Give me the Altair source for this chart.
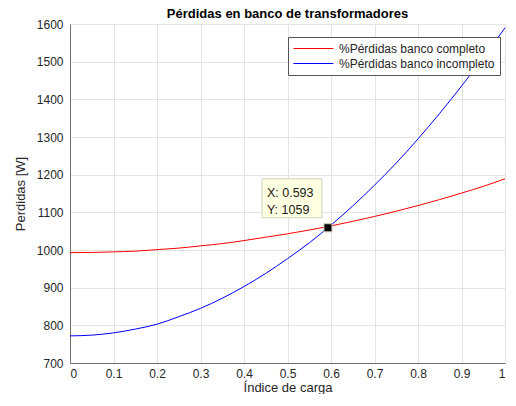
import altair as alt
import pandas as pd

# Values
load_index = [0.0, 0.05, 0.1, 0.15, 0.2, 0.25, 0.3, 0.35, 0.4, 0.45, 0.5,
              0.55, 0.6, 0.65, 0.7, 0.75, 0.8, 0.85, 0.9, 0.95, 1.0]
loss_complete = [993, 993.5, 995, 997, 1001, 1005, 1011, 1017, 1025, 1034, 1043,
                 1053, 1064, 1076, 1089, 1103, 1118, 1134, 1151, 1169, 1189]
loss_incomplete = [772, 774, 780, 790, 803, 823, 845, 872, 903, 938, 977,
                   1019, 1066, 1117, 1172, 1231, 1295, 1363, 1435, 1511, 1590]
series_names = ["%Pérdidas banco completo", "%Pérdidas banco incompleto"]
series_colors = ["#ff0000", "#0000ff"]
tip_x = [0.593]
tip_y = [1059]
x_ticks = [0, 0.1, 0.2, 0.3, 0.4, 0.5, 0.6, 0.7, 0.8, 0.9, 1]
y_ticks = [700, 800, 900, 1000, 1100, 1200, 1300, 1400, 1500, 1600]

rows = []
for name, vals in zip(series_names, [loss_complete, loss_incomplete]):
    for xv, yv in zip(load_index, vals):
        rows.append({"x": xv, "y": yv, "serie": name})
df = pd.DataFrame(rows)

df_tip = pd.DataFrame({
    "x": tip_x,
    "y": tip_y,
    "label": [f"X: {tip_x[0]}\nY: {tip_y[0]}"],
})

FONT = "Liberation Sans"
x_scale = alt.Scale(domain=[0, 1], nice=False, zero=False)
y_scale = alt.Scale(domain=[700, 1600], nice=False, zero=False)
x_axis = alt.Axis(values=x_ticks, format="~g", title="Índice de carga",
                  labelOverlap=False, tickCount=11,
                  titleBaseline="alphabetic", titleY=28)
y_axis = alt.Axis(values=y_ticks, format="d", title="Perdidas [W]",
                  labelOverlap=False, tickCount=10)
x_enc = alt.X("x:Q", scale=x_scale, axis=x_axis)
y_enc = alt.Y("y:Q", scale=y_scale, axis=y_axis)

lines = alt.Chart(df).mark_line(strokeWidth=1, interpolate="monotone").encode(
    x=x_enc,
    y=y_enc,
    color=alt.Color("serie:N",
                    scale=alt.Scale(domain=series_names, range=series_colors),
                    legend=alt.Legend(
                        title=None, orient="none", legendX=218, legendY=13,
                        symbolType="stroke", symbolSize=1600, symbolStrokeWidth=1,
                        clipHeight=13,
                        labelFont=FONT, labelFontSize=12, labelColor="#262626",
                        labelOffset=5, rowPadding=2, padding=5,
                        strokeColor="#555555", fillColor="#ffffff",
                    )),
)

tip_box = alt.Chart(df_tip).mark_rect(
    fill="#ffffe1", stroke="#d0d0c0", strokeWidth=1,
    xOffset=-66, x2Offset=-6, yOffset=-49, y2Offset=-10,
).encode(x=x_enc, x2="x", y=y_enc, y2="y")

tip_text = alt.Chart(df_tip).mark_text(
    align="left", baseline="alphabetic", dx=-61, dy=-31,
    lineBreak="\n", lineHeight=17, font=FONT, fontSize=12.5, color="#1a1a1a",
).encode(x=x_enc, y=y_enc, text="label:N")

tip_marker = alt.Chart(df_tip).mark_square(
    size=64, fill="#000000", stroke="#c8c8b0", strokeWidth=1, opacity=1,
).encode(x=x_enc, y=y_enc)

chart = alt.layer(lines, tip_box, tip_text, tip_marker).properties(
    width=435, height=339,
    title=alt.TitleParams("Pérdidas en banco de transformadores", font=FONT,
                          fontSize=13, fontWeight="bold", color="#000000",
                          anchor="middle", offset=3, frame="group", dy=6),
    autosize=alt.AutoSizeParams(type="none"),
    padding={"left": 62, "top": 16, "right": 3, "bottom": 31},
).configure_view(stroke=None).configure_axis(
    labelFont=FONT, labelFontSize=12, labelColor="#262626",
    titleFont=FONT, titleFontSize=13, titleColor="#262626", titleFontWeight="normal",
    gridColor="#e3e3e3", gridWidth=1,
    domainColor="#707070", domainWidth=1,
    ticks=False, tickSize=0,
).configure_axisX(labelPadding=5).configure_axisY(
    labelPadding=7, titlePadding=9)

chart.save("out.html", embed_options={"renderer": "svg", "actions": False})
